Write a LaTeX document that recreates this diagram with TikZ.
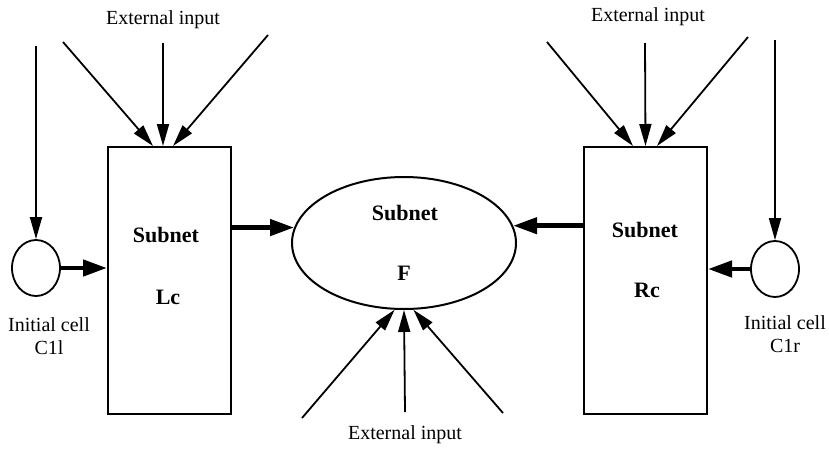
\documentclass[tikz,border=0pt]{standalone}
\usepackage{fontspec}
\setmainfont{Liberation Serif}
\usetikzlibrary{arrows.meta,shapes.geometric}
\begin{document}
\begin{tikzpicture}[x=1pt,y=-1pt,
  box/.style={draw, line width=2pt, minimum width=123pt, minimum height=267pt, inner sep=0pt},
  cell/.style={draw, ellipse, line width=1.8pt, minimum width=48pt, minimum height=56pt, inner sep=0pt},
  oval/.style={draw, ellipse, line width=2pt, minimum width=224pt, minimum height=132pt, inner sep=0pt},
  inarrow/.style={line width=1.8pt, -{Triangle[length=22pt,width=12pt]}},
  mainarrow/.style={line width=4.5pt, -{Triangle[length=24pt,width=16pt]}},
  lbl/.style={font=\fontsize{20}{23}\selectfont, inner sep=0pt, align=center},
  ttl/.style={font=\fontsize{22}{24}\selectfont\bfseries, inner sep=0pt}]
\useasboundingbox (0,0) rectangle (829,450);

% main shapes
\node[box] (lbox) at (169.5,280.5) {};
\node[box] (rbox) at (645.5,280.5) {};
\node[oval] (ell) at (404,243) {};
\node[cell] (lc) at (36,268) {};
\node[cell] (rc) at (775,269) {};

% texts
\node[ttl] (lsub) at (166,235) {Subnet};
\node[ttl] (lname) at (168,297) {Lc};
\node[ttl] (fsub) at (405,213) {Subnet};
\node[ttl] (fname) at (404,273) {F};
\node[ttl] (rsub) at (645,230) {Subnet};
\node[ttl] (rname) at (647,290) {Rc};
\node[lbl] (ext1) at (163,20) {External input};
\node[lbl] (ext2) at (648,17) {External input};
\node[lbl] (ext3) at (405,435) {External input};
\node[lbl] (ic1) at (49,336) {Initial cell\\C1l};
\node[lbl] (ic2) at (785,334) {Initial cell\\C1r};

% free ends
\coordinate (la) at (63,42);
\coordinate (lb) at (163,43);
\coordinate (lcc) at (268,35);
\coordinate (ra) at (547,42);
\coordinate (rb) at (645,43);
\coordinate (rcc) at (748,37);
\coordinate (fa) at (302,418);
\coordinate (fb) at (405,412);
\coordinate (fc) at (503,413);
\coordinate (lin) at (36,46);
\coordinate (rin) at (775,40);

% external input arrows
\draw[inarrow] (la) -- ([xshift=-16.5pt]lbox.north);
\draw[inarrow] (lb) -- ([xshift=-6.5pt]lbox.north);
\draw[inarrow] (lcc) -- ([xshift=3.5pt]lbox.north);
\draw[inarrow] (ra) -- ([xshift=-12.5pt]rbox.north);
\draw[inarrow] (rb) -- (rbox.north);
\draw[inarrow] (rcc) -- ([xshift=11.5pt]rbox.north);
\draw[inarrow] (fa) -- (ell.262);
\draw[inarrow] (fb) -- (ell.south);
\draw[inarrow] (fc) -- (ell.278);
\draw[inarrow] (lin) -- (lc.north);
\draw[inarrow] (rin) -- (rc.north);

% main flow
\draw[mainarrow] (lc.east) -- (lbox.west |- lc.east);
\draw[mainarrow] (rc.west) -- (rbox.east |- rc.west);
\draw[mainarrow] (lbox.east |- ell.172) -- (ell.172);
\draw[mainarrow] (rbox.west |- ell.9) -- (ell.9);
\end{tikzpicture}
\end{document}
